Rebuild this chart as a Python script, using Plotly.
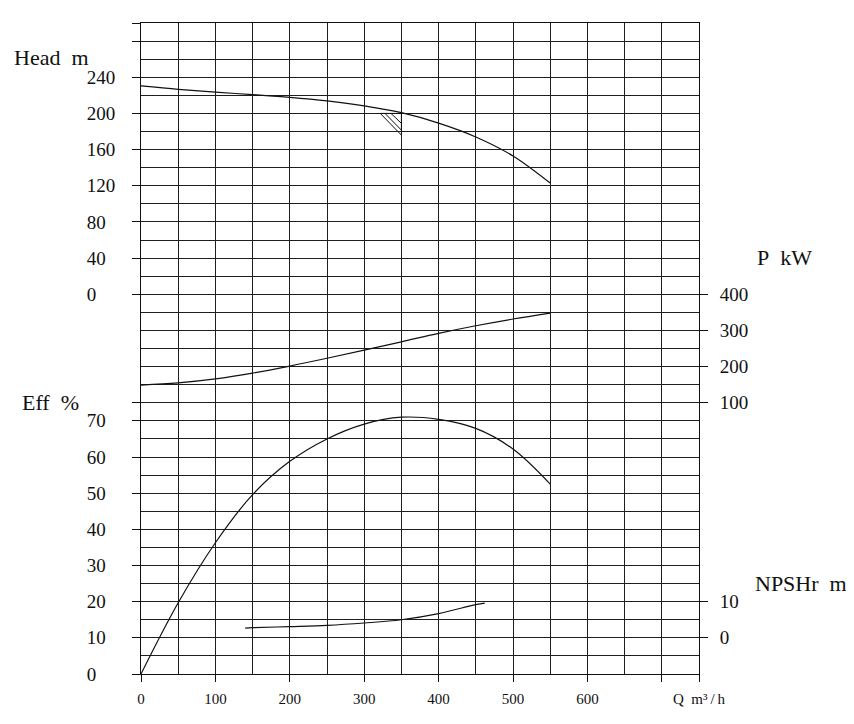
import plotly.graph_objects as go

# ---------------- data ----------------
q_head = [0, 50, 100, 150, 200, 250, 300, 350, 400, 450, 500, 550]
head_m = [230.5, 226.7, 223.5, 220.8, 217.8, 213.8, 208.3, 200.8, 189.3, 174, 153, 123]

q_power = [0, 50, 100, 150, 200, 250, 300, 350, 400, 450, 500, 550]
power_kw = [149, 155, 166, 182, 201.5, 223, 245.5, 268.5, 292, 313, 331.5, 348]

q_eff = [0, 50, 100, 150, 200, 250, 300, 350, 400, 450, 500, 550]
eff_pct = [0, 19.7, 36.3, 49.6, 58.8, 65, 69.1, 71, 70.4, 67.9, 62.2, 52.5]

q_npsh = [140, 150, 200, 250, 300, 350, 400, 450, 462]
npsh_m = [2.7, 2.8, 3.1, 3.45, 4.1, 5.0, 6.7, 9.2, 9.6]

# duty-point symbol (hatched triangle under the head curve)
duty_q = [321.6, 350, 350, 321.6, None, 328, 350, None, 336, 350]
duty_h = [200, 200, 176, 200, None, 200, 181.5, None, 200, 189]

# axis tick labels
x_ticks = [0, 100, 200, 300, 400, 500, 600, 700, 750]
x_ticktext = ["0", "100", "200", "300", "400", "500", "600", "",
              "Q\u00a0\u00a0m\u00b3\u2009/\u2009h"]
head_ticks = [0, 40, 80, 120, 160, 200, 240, 280, 300]
eff_ticks = [0, 10, 20, 30, 40, 50, 60, 70, 75]
power_ticks = [100, 200, 300, 400]
npsh_ticks = [0, 10]

NB = "\u00a0"


def pad3(v):
    s = str(v)
    return s + NB * (2 * (3 - len(s)))


head_text = [pad3(v) if v <= 240 else "" for v in head_ticks]
eff_text = [pad3(v) if v <= 70 else "" for v in eff_ticks]

# ---------------- figure ----------------
INK = "#111111"
GRID = "#1e1e1e"
FONT = "Liberation Serif"
curve = dict(color=INK, width=1.2, shape="spline", smoothing=1.0)

fig = go.Figure()
fig.add_trace(go.Scatter(x=q_head, y=head_m, mode="lines", line=curve, yaxis="y", hoverinfo="skip"))
fig.add_trace(go.Scatter(x=duty_q, y=duty_h, mode="lines", line=dict(color=INK, width=1), yaxis="y",
                         hoverinfo="skip", connectgaps=False))
fig.add_trace(go.Scatter(x=q_power, y=power_kw, mode="lines", line=curve, yaxis="y3", hoverinfo="skip"))
fig.add_trace(go.Scatter(x=q_eff, y=eff_pct, mode="lines", line=curve, yaxis="y2", hoverinfo="skip"))
fig.add_trace(go.Scatter(x=q_npsh, y=npsh_m, mode="lines", line=curve, yaxis="y4", hoverinfo="skip"))

head_minor = [v for v in range(-420, 301, 20) if v not in head_ticks]
x_minor = [v for v in range(0, 751, 50) if v not in x_ticks]

tickfont = dict(family=FONT, size=19, color=INK)

# the page body adds an 8px margin, so the figure is offset by 8px
fig.update_layout(
    width=846, height=708,
    margin=dict(l=133, r=155, t=15, b=42, autoexpand=False),
    paper_bgcolor="white", plot_bgcolor="white",
    showlegend=False,
    xaxis=dict(
        range=[0, 750], tickmode="array", tickvals=x_ticks, ticktext=x_ticktext,
        ticks="outside", ticklen=7, tickcolor=INK, tickwidth=1,
        showgrid=True, gridcolor=GRID, gridwidth=1,
        minor=dict(tickmode="array", tickvals=x_minor, showgrid=True, gridcolor=GRID, gridwidth=1, ticks=""),
        showline=True, mirror=True, linecolor=INK, linewidth=1,
        zeroline=False, automargin=False,
        tickfont=dict(family=FONT, size=15, color=INK), ticklabelstandoff=4,
    ),
    yaxis=dict(
        range=[-420, 300], tickmode="array", tickvals=head_ticks, ticktext=head_text,
        ticks="outside", ticklen=8, tickcolor=INK, tickwidth=1,
        showgrid=True, gridcolor=GRID, gridwidth=1,
        minor=dict(tickmode="array", tickvals=head_minor, showgrid=True, gridcolor=GRID, gridwidth=1, ticks=""),
        showline=True, mirror=True, linecolor=INK, linewidth=1,
        zeroline=False, automargin=False, tickfont=tickfont, ticklabelstandoff=13,
    ),
    yaxis2=dict(
        overlaying="y", side="left", range=[0, 180], tickmode="array",
        tickvals=eff_ticks, ticktext=eff_text,
        ticks="outside", ticklen=8, tickcolor=INK, tickwidth=1,
        showgrid=False, zeroline=False, showline=False, automargin=False,
        tickfont=tickfont, ticklabelstandoff=13,
    ),
    yaxis3=dict(
        overlaying="y", side="right", range=[-650, 1150], tickmode="array",
        tickvals=power_ticks, ticktext=[str(v) for v in power_ticks],
        ticks="outside", ticklen=8, tickcolor=INK, tickwidth=1,
        showgrid=False, zeroline=False, showline=False, automargin=False,
        tickfont=tickfont, ticklabelstandoff=8,
    ),
    yaxis4=dict(
        overlaying="y", side="right", range=[-10, 170], tickmode="array",
        tickvals=npsh_ticks, ticktext=[str(v) for v in npsh_ticks],
        ticks="outside", ticklen=8, tickcolor=INK, tickwidth=1,
        showgrid=False, zeroline=False, showline=False, automargin=False,
        tickfont=tickfont, ticklabelstandoff=8,
    ),
)

# axis titles placed in page-pixel terms relative to the plot area
L, R, T, B = 141, 699, 23, 674


def px(xp, yp):
    return (xp - L) / (R - L), (B - yp) / (B - T)


titles = [
    ("Head\u00a0\u00a0m", 12, 57),
    ("Eff\u00a0\u00a0%", 20, 402),
    ("P\u00a0\u00a0kW", 755, 257),
    ("NPSHr\u00a0\u00a0m", 753, 583),
]
for txt, xp, yp in titles:
    ax, ay = px(xp, yp)
    fig.add_annotation(text=txt, x=ax, y=ay, xref="paper", yref="paper",
                       xanchor="left", yanchor="middle", showarrow=False,
                       font=dict(family=FONT, size=22, color=INK))

fig.write_html("out.html")
